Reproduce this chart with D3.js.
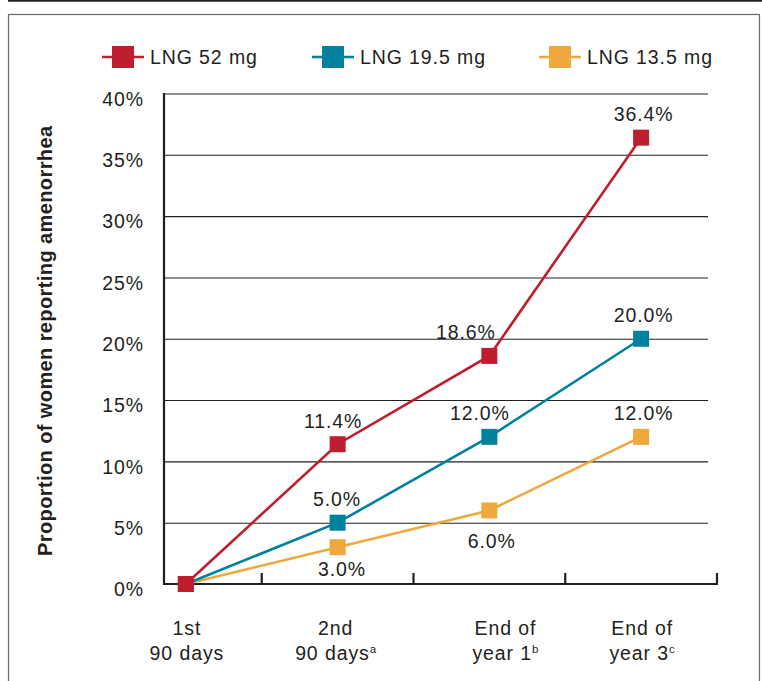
<!DOCTYPE html>
<html>
<head>
<meta charset="utf-8">
<script src="https://cdn.jsdelivr.net/npm/d3@7/dist/d3.min.js"></script>
<style>
  html, body { margin: 0; padding: 0; background: #fff; }
  svg { display: block; }
  text { font-family: "Liberation Sans", Arial, Helvetica, sans-serif; fill: #231F20; }
</style>
</head>
<body>
<svg id="chart" width="762" height="681"></svg>
<script>
// ---------------- DATA ----------------
const categories = ["1st 90 days", "2nd 90 days", "End of year 1", "End of year 3"];
const xLabelLine1 = ["1st", "2nd", "End of", "End of"];
const xLabelLine2 = ["90 days", "90 days", "year 1", "year 3"];
const xLabelSup   = ["", "a", "b", "c"];

const seriesNames = ["LNG 52 mg", "LNG 19.5 mg", "LNG 13.5 mg"];
const lng52  = [0, 11.4, 18.6, 36.4];
const lng195 = [0, 5.0, 12.0, 20.0];
const lng135 = [0, 3.0, 6.0, 12.0];

const yTicks = [0, 5, 10, 15, 20, 25, 30, 35, 40];
const yTickLabels = ["0%", "5%", "10%", "15%", "20%", "25%", "30%", "35%", "40%"];
const yTitle = "Proportion of women reporting amenorrhea";

// label placement (which side of the marker, small horizontal nudge)
const labelSide52  = [null, "above", "above", "above"];
const labelSide195 = [null, "above", "above", "above"];
const labelSide135 = [null, "below", "below", "above"];
const labelNudge52  = [0, -5, -24, 2];
const labelNudge195 = [0, -1, -10, 2];
const labelNudge135 = [0, 4, 2, 2];
const xLabelNudge = [1, -2, 16, 1];

// ---------------- STYLE / LAYOUT ----------------
const colors = ["#BE1E2D", "#00819D", "#EFA83C"];
const W = 762, H = 681;
const axisX = 164, gridRight = 708;
const plotTop = 93.5, plotBottom = 584;
const fontSize = 19.5, spacing = 0.9;

const svg = d3.select("#chart");

// frame
svg.append("line").attr("x1", 8).attr("x2", W).attr("y1", 0.8).attr("y2", 0.8)
  .attr("stroke", "#231F20").attr("stroke-width", 1.8);
svg.append("rect").attr("x", 8.5).attr("y", 14.5).attr("width", 751).attr("height", H)
  .attr("fill", "none").attr("stroke", "#6d6d6d").attr("stroke-width", 1.2);

// scales
const x = d3.scaleBand().domain(categories).range([110, 717]).padding(0);
const y = d3.scaleLinear().domain([0, 40]).range([plotBottom, plotTop]);
const cx = c => x(c) + x.bandwidth() / 2;

// y gridlines + labels via axis
const yAxis = d3.axisLeft(y)
  .tickValues(yTicks)
  .tickSize(-(gridRight - axisX))
  .tickPadding(20)
  .tickFormat((d, i) => yTickLabels[i]);
const gy = svg.append("g").attr("transform", `translate(${axisX},0)`).call(yAxis);
gy.select(".domain").remove();
gy.selectAll(".tick line")
  .attr("stroke", "#231F20").attr("stroke-width", 1.1)
  .attr("display", d => d === 0 ? "none" : null);
gy.selectAll(".tick text")
  .attr("font-size", fontSize).attr("letter-spacing", spacing)
  .attr("dy", "0.6em").attr("fill", "#231F20")
  .style("font-family", '"Liberation Sans", Arial, sans-serif');

// y axis spine
svg.append("line").attr("x1", axisX).attr("x2", axisX)
  .attr("y1", y(40) - 0.5).attr("y2", y(0) + 1)
  .attr("stroke", "#231F20").attr("stroke-width", 2.2);

// x axis line + inward ticks at band boundaries
svg.append("line").attr("x1", axisX - 1).attr("x2", x.range()[1] + 1)
  .attr("y1", y(0)).attr("y2", y(0))
  .attr("stroke", "#231F20").attr("stroke-width", 2.2);
svg.append("g").selectAll("line").data(categories).join("line")
  .attr("x1", d => x(d) + x.bandwidth()).attr("x2", d => x(d) + x.bandwidth())
  .attr("y1", y(0)).attr("y2", y(0) - 11)
  .attr("stroke", "#231F20").attr("stroke-width", 2.2);

// x labels
const xl = svg.append("g").selectAll("g").data(categories).join("g")
  .attr("transform", (d, i) => `translate(${cx(d) + xLabelNudge[i]},0)`);
xl.append("text").attr("y", 635).attr("text-anchor", "middle")
  .attr("font-size", fontSize).attr("letter-spacing", spacing)
  .text((d, i) => xLabelLine1[i]);
const l2 = xl.append("text").attr("y", 660).attr("text-anchor", "middle")
  .attr("font-size", fontSize).attr("letter-spacing", spacing);
l2.append("tspan").text((d, i) => xLabelLine2[i]);
l2.append("tspan").attr("font-size", 11.5).attr("dy", -7).attr("letter-spacing", 0)
  .text((d, i) => xLabelSup[i]);

// y title
svg.append("text")
  .attr("transform", `translate(52,${(plotTop + plotBottom) / 2 + 2}) rotate(-90)`)
  .attr("text-anchor", "middle").attr("font-weight", "bold")
  .attr("font-size", 20).attr("letter-spacing", 0.4)
  .text(yTitle);

// series
const series = [
  { name: seriesNames[0], values: lng52,  color: colors[0], side: labelSide52,  nudge: labelNudge52 },
  { name: seriesNames[1], values: lng195, color: colors[1], side: labelSide195, nudge: labelNudge195 },
  { name: seriesNames[2], values: lng135, color: colors[2], side: labelSide135, nudge: labelNudge135 }
];
const line = d3.line().x((d, i) => cx(categories[i])).y(d => y(d));
const ms = 16;
// draw order: orange, teal, red (red on top)
[...series].reverse().forEach(s => {
  const g = svg.append("g");
  g.append("path").attr("d", line(s.values)).attr("fill", "none")
    .attr("stroke", s.color).attr("stroke-width", 2.6);
  g.selectAll("rect").data(s.values).join("rect")
    .attr("x", (d, i) => cx(categories[i]) - ms / 2)
    .attr("y", d => y(d) - ms / 2)
    .attr("width", ms).attr("height", ms).attr("fill", s.color);
});
// value labels
series.forEach(s => {
  svg.append("g").selectAll("text").data(s.values.map((v, i) => ({ v, i })).filter(d => s.side[d.i]))
    .join("text")
    .attr("x", d => cx(categories[d.i]) + s.nudge[d.i] + spacing / 2)
    .attr("y", d => y(d.v) + (s.side[d.i] === "above" ? -16.5 : (d.i === 2 ? 38 : 29)))
    .attr("text-anchor", "middle")
    .attr("font-size", fontSize).attr("letter-spacing", spacing)
    .text(d => d3.format(".1f")(d.v) + "%");
});

// legend
const legendX = [102, 312, 539];
const legendY = 57;
series.forEach((s, i) => {
  const g = svg.append("g").attr("transform", `translate(${legendX[i]},${legendY})`);
  g.append("line").attr("x1", 0).attr("x2", 42).attr("y1", 0).attr("y2", 0)
    .attr("stroke", s.color).attr("stroke-width", 2.6);
  g.append("rect").attr("x", 10).attr("y", -11).attr("width", 22).attr("height", 22).attr("fill", s.color);
  g.append("text").attr("x", 48).attr("y", 7)
    .attr("font-size", fontSize).attr("letter-spacing", spacing)
    .text(s.name);
});
</script>
</body>
</html>
